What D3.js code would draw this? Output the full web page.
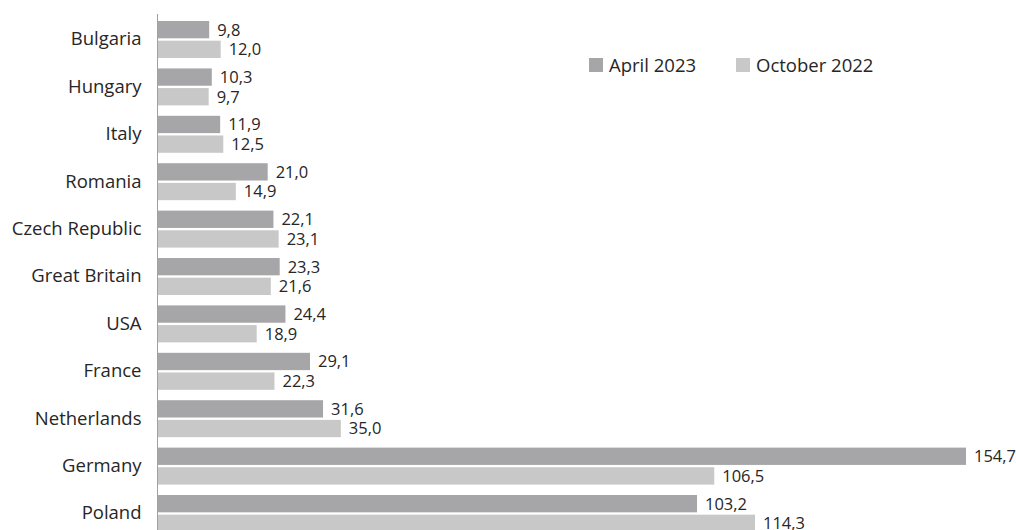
<!DOCTYPE html>
<html>
<head>
<meta charset="utf-8">
<script src="https://cdn.jsdelivr.net/npm/d3@7"></script>
<style>
  html, body { margin: 0; padding: 0; background: #fff; }
  svg text { font-family: "Open Sans", "Noto Sans", sans-serif; fill: #262626; }
</style>
</head>
<body>
<svg id="chart" width="1016" height="530"></svg>
<script>
const categories = ["Bulgaria", "Hungary", "Italy", "Romania", "Czech Republic", "Great Britain", "USA", "France", "Netherlands", "Germany", "Poland"];
const seriesNames = ["April 2023", "October 2022"];
const april2023 = [9.8, 10.3, 11.9, 21.0, 22.1, 23.3, 24.4, 29.1, 31.6, 154.7, 103.2];
const october2022 = [12.0, 9.7, 12.5, 14.9, 23.1, 21.6, 18.9, 22.3, 35.0, 106.5, 114.3];
const colors = ["#a6a6a8", "#c8c8c9"];

const svg = d3.select("#chart");
const x = d3.scaleLinear().domain([0, 154.7]).range([158, 966]);
const y = d3.scaleBand().domain(categories).range([15.8, 537.2]).paddingInner(0.22).paddingOuter(0.11);
const inner = d3.scaleBand().domain(seriesNames).range([0, y.bandwidth()]).paddingInner(0.12);

const data = categories.map((c, i) => ({ cat: c, values: [april2023[i], october2022[i]] }));
const fmt = v => d3.format(".1f")(v).replace(".", ",");

const groups = svg.selectAll("g.cat").data(data).join("g")
  .attr("class", "cat")
  .attr("transform", d => `translate(0,${y(d.cat)})`);

groups.selectAll("rect").data(d => d.values.map((v, j) => ({ v, s: seriesNames[j], j })))
  .join("rect")
  .attr("x", x(0))
  .attr("y", d => inner(d.s))
  .attr("width", d => x(d.v) - x(0))
  .attr("height", inner.bandwidth())
  .attr("fill", d => colors[d.j]);

groups.selectAll("text.val").data(d => d.values.map((v, j) => ({ v, s: seriesNames[j], j })))
  .join("text")
  .attr("class", "val")
  .attr("x", d => x(d.v) + 8)
  .attr("y", d => inner(d.s) + inner.bandwidth() / 2)
  .attr("dy", "0.36em")
  .attr("font-size", 16.5)
  .text(d => fmt(d.v));

// category axis
const yAxis = d3.axisLeft(y).tickSize(0).tickPadding(16);
const ag = svg.append("g").attr("transform", `translate(${x(0) - 0.5},0)`).call(yAxis);
ag.select(".domain").remove();
ag.selectAll("text").attr("font-size", 18.5).attr("fill", "#262626")
  .style("font-family", "'Open Sans', 'Noto Sans', sans-serif");
svg.append("line")
  .attr("x1", x(0) - 0.5).attr("x2", x(0) - 0.5)
  .attr("y1", 14).attr("y2", 530)
  .attr("stroke", "#a0a0a0").attr("stroke-width", 1);

// legend
const legendX = [589, 736];
const lg = svg.selectAll("g.legend").data(seriesNames).join("g")
  .attr("class", "legend")
  .attr("transform", (d, i) => `translate(${legendX[i]},58)`);
lg.append("rect").attr("width", 14).attr("height", 14).attr("fill", (d, i) => colors[i]);
lg.append("text").attr("x", 20).attr("y", 7).attr("dy", "0.36em").attr("font-size", 18.5).text(d => d);
</script>
</body>
</html>
